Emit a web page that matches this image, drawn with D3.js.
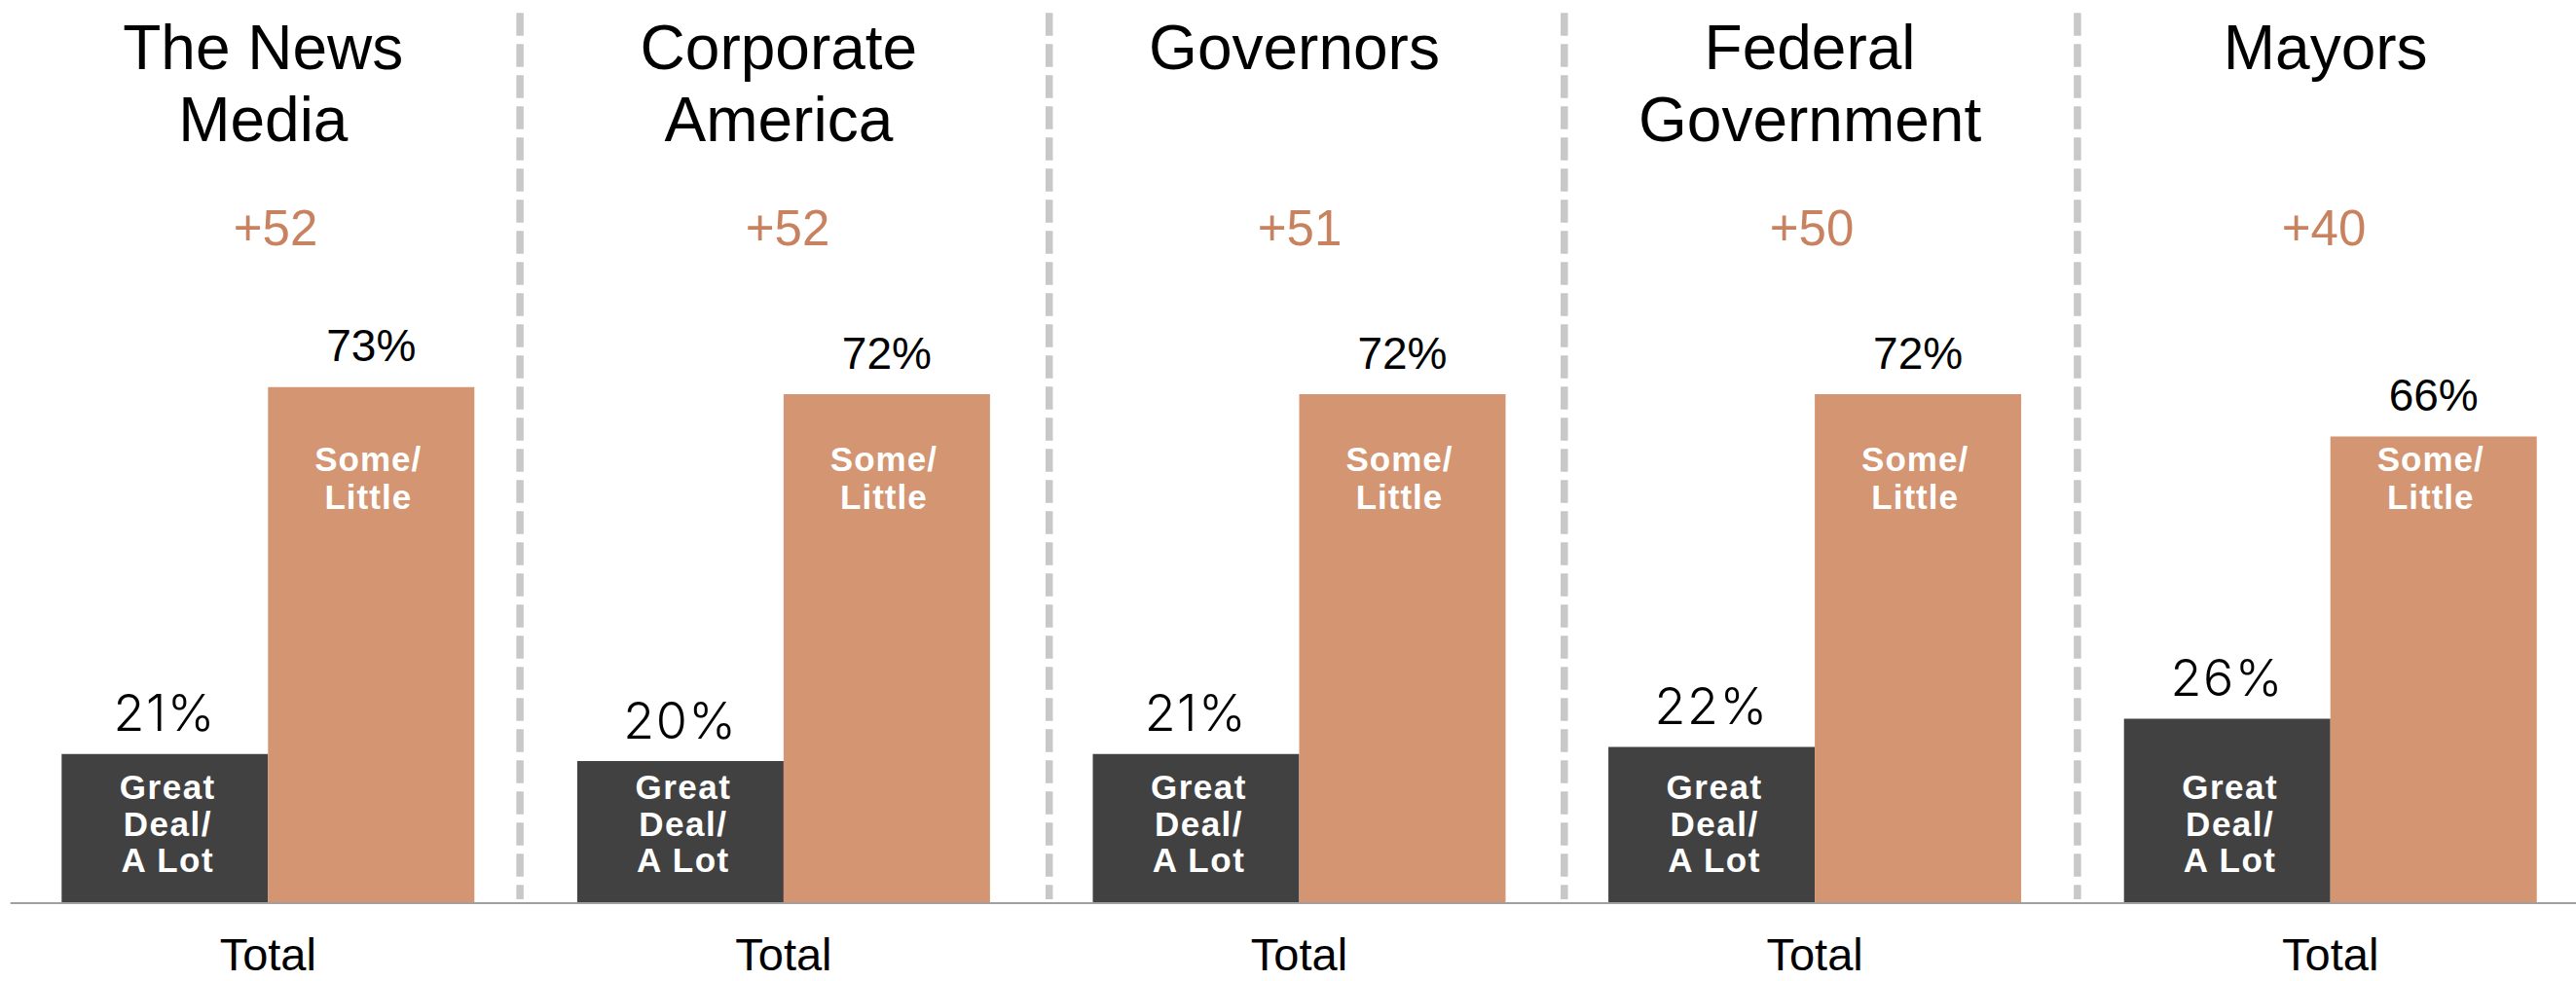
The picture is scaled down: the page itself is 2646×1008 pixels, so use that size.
<!DOCTYPE html>
<html>
<head>
<meta charset="utf-8">
<script src="https://cdn.jsdelivr.net/npm/d3@7/dist/d3.min.js"></script>
<style>
  html, body { margin: 0; padding: 0; background: #ffffff; }
  svg { display: block; }
</style>
</head>
<body>
<svg id="chart" width="2646" height="1008"></svg>
<script>
// Confidence in institutions: share saying "Great Deal/A Lot" vs "Some/Little"
const categories = ["The News Media", "Corporate America", "Governors", "Federal Government", "Mayors"];
const titleLines = [["The News", "Media"], ["Corporate", "America"], ["Governors"], ["Federal", "Government"], ["Mayors"]];
const greatDeal = [21, 20, 21, 22, 26];
const someLittle = [73, 72, 72, 72, 66];
const gapLabels = ["+52", "+52", "+51", "+50", "+40"];
const seriesKeys = ["great", "some"];
const seriesLabels = { great: ["Great", "Deal/", "A Lot"], some: ["Some/", "Little"] };
const groupLabel = "Total";

const W = 2646, H = 1008;
const baseY = 927;
const DARK = "#414141", ORANGE = "#d39572", GAP = "#c8825f", GRID = "#c8c8c8";
const ARIAL = "'Liberation Sans', Arial, Helvetica, sans-serif";
const LIGHT = "Inter, Lato, 'DejaVu Sans', sans-serif";

const svg = d3.select("#chart");

// panels and bars inside each panel
const x = d3.scaleBand().domain(categories).range([63.3, 2605.7]).paddingInner(0.1994).paddingOuter(0);
const xs = d3.scaleBand().domain(seriesKeys).range([0, x.bandwidth()]).padding(0);
const y = d3.scaleLinear().domain([0, 100]).range([baseY, baseY - 725]);
const gapX = d3.scalePoint().domain(categories).range([283, 2387]);

const data = categories.map((c, i) => ({
  cat: c, i,
  values: [{ key: "great", v: greatDeal[i] }, { key: "some", v: someLittle[i] }]
}));

// dashed separators in the gaps between panels
const sepShift = [-6, 8, 7.5, 5];
const gapHalf = (x.step() - x.bandwidth()) / 2;
const sepX = categories.slice(1).map((c, i) => x(c) - gapHalf + sepShift[i]);
svg.append("g").selectAll("line").data(sepX).join("line")
  .attr("x1", d => d).attr("x2", d => d)
  .attr("y1", 13.3).attr("y2", 924)
  .attr("stroke", GRID).attr("stroke-width", 7.5)
  .attr("stroke-dasharray", "23.5 8.5");

const panel = svg.append("g").selectAll("g.panel").data(data).join("g")
  .attr("class", "panel")
  .attr("transform", d => `translate(${x(d.cat)},0)`);

// bars
panel.selectAll("rect").data(d => d.values).join("rect")
  .attr("x", d => xs(d.key))
  .attr("width", xs.bandwidth())
  .attr("y", d => y(d.v))
  .attr("height", d => y(0) - y(d.v))
  .attr("fill", d => d.key === "great" ? DARK : ORANGE);

// value labels above bars
panel.selectAll("text.val").data(d => d.values).join("text")
  .attr("class", "val")
  .attr("x", d => xs(d.key) + xs.bandwidth() / 2)
  .attr("y", d => y(d.v) - (d.key === "great" ? 23.5 : 26.5))
  .attr("text-anchor", "middle")
  .attr("font-family", d => d.key === "great" ? LIGHT : ARIAL)
  .attr("font-weight", d => d.key === "great" ? 300 : 400)
  .attr("font-size", d => d.key === "great" ? 52 : 46)
  .attr("letter-spacing", d => d.key === "great" ? 1.5 : 0)
  .attr("fill", "#000")
  .text(d => d.v + "%");

// series names inside bars
panel.each(function() {
  const g = d3.select(this);
  const gx = xs("great") + xs.bandwidth() / 2 + 3;
  g.append("text")
    .attr("text-anchor", "middle").attr("font-family", ARIAL).attr("font-weight", 700)
    .attr("font-size", 35).attr("letter-spacing", 1.5).attr("fill", "#fff")
    .selectAll("tspan").data(seriesLabels.great).join("tspan")
    .attr("x", gx).attr("y", (d, i) => baseY - 31 - (2 - i) * 37.5)
    .text(d => d);
  const sx = xs("some") + xs.bandwidth() / 2 - 3;
  g.append("text")
    .attr("text-anchor", "middle").attr("font-family", ARIAL).attr("font-weight", 700)
    .attr("font-size", 35).attr("letter-spacing", 1).attr("fill", "#fff")
    .selectAll("tspan").data(seriesLabels.some).join("tspan")
    .attr("x", sx).attr("y", (d, i) => 484 + i * 39)
    .text(d => d);
});

// panel titles
panel.append("text")
  .attr("text-anchor", "middle").attr("font-family", ARIAL)
  .attr("font-size", 64).attr("fill", "#000")
  .selectAll("tspan").data(d => titleLines[d.i]).join("tspan")
  .attr("x", x.bandwidth() / 2 - 5).attr("y", (d, i) => 70.7 + i * 74.3)
  .text(d => d);

// gap between the two shares
svg.append("g").selectAll("text").data(data).join("text")
  .attr("x", d => gapX(d.cat)).attr("y", 251.7)
  .attr("text-anchor", "middle").attr("font-family", ARIAL)
  .attr("font-size", 51).attr("fill", GAP)
  .text(d => gapLabels[d.i]);

// category axis label under each panel
panel.append("text")
  .attr("x", x.bandwidth() / 2).attr("y", 997)
  .attr("text-anchor", "middle").attr("font-family", ARIAL)
  .attr("font-size", 47).attr("fill", "#000")
  .text(groupLabel);

// baseline
svg.append("line")
  .attr("x1", 10.7).attr("x2", W)
  .attr("y1", baseY + 1).attr("y2", baseY + 1)
  .attr("stroke", "#a0a0a0").attr("stroke-width", 2);
</script>
</body>
</html>
